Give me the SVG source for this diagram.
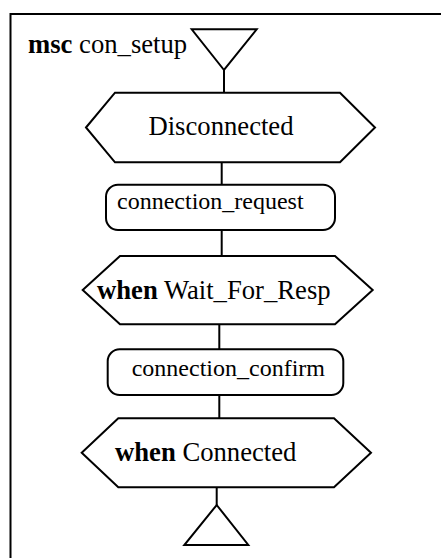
<svg xmlns="http://www.w3.org/2000/svg" width="441" height="558" viewBox="0 0 441 558">
<style>
.s{fill:#fff;stroke:#000;stroke-width:2;stroke-linejoin:miter}
.c{fill:none;stroke:#000;stroke-width:2}
.t{font-family:'Liberation Serif','Times New Roman',Times,serif;fill:#000}
.st{font-size:26.67px}
.msg{font-size:24px}
.b{font-weight:bold}
</style>
<rect width="441" height="558" fill="#fff"/>
<g id="frame">
<path class="c" d="M10.5,560 L10.5,14 L443,14"/>
<text class="t st" x="28" y="53" font-family="Liberation Serif, serif"><tspan class="b">msc</tspan> con_setup</text>
</g>
<g id="connectors">
<line class="c" x1="224" y1="70" x2="224" y2="93"/>
<line class="c" x1="221.7" y1="162" x2="221.7" y2="185"/>
<line class="c" x1="221.7" y1="230" x2="221.7" y2="256"/>
<line class="c" x1="219.3" y1="324" x2="219.3" y2="349"/>
<line class="c" x1="219.3" y1="395" x2="219.3" y2="418"/>
<line class="c" x1="216.7" y1="487" x2="216.7" y2="505"/>
</g>
<g id="start">
<polygon class="s" points="191.7,29.3 256.7,29.3 224,70"/>
</g>
<g id="disconnected">
<polygon class="s" points="86,127.5 115,92.7 340,92.7 375,127.5 340,162.3 115,162.3"/>
<text class="t st" x="221" y="135" text-anchor="middle" font-family="Liberation Serif, serif">Disconnected</text>
</g>
<g id="connection_request">
<rect class="s" x="106" y="184.7" width="229" height="45.3" rx="12"/>
<text class="t msg" x="117" y="209" font-family="Liberation Serif, serif">connection_request</text>
</g>
<g id="wait_for_resp">
<polygon class="s" points="82.7,290 120,256 335,256 372.7,290 335,324.3 120,324.3"/>
<text class="t st" x="97" y="299" font-family="Liberation Serif, serif"><tspan class="b">when</tspan> Wait_For_Resp</text>
</g>
<g id="connection_confirm">
<rect class="s" x="107.7" y="349.3" width="235.6" height="45.7" rx="12"/>
<text class="t msg" x="131.7" y="376" font-family="Liberation Serif, serif">connection_confirm</text>
</g>
<g id="connected">
<polygon class="s" points="81.7,452.7 118.3,418.3 334,418.3 371,452.7 334,487.3 118.3,487.3"/>
<text class="t st" x="115" y="461" font-family="Liberation Serif, serif"><tspan class="b">when</tspan> Connected</text>
</g>
<g id="end">
<polygon class="s" points="216.7,505 248.3,545 184.3,545"/>
</g>
</svg>
